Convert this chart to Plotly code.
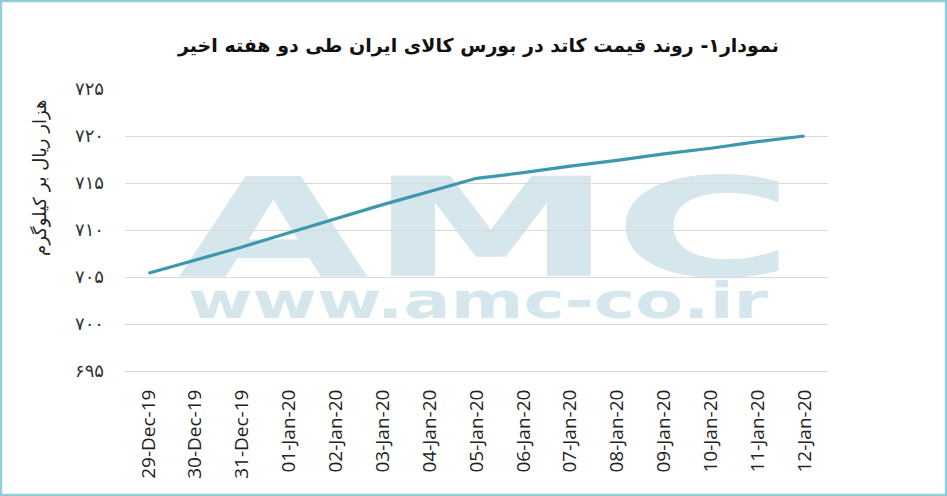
import base64
import plotly.graph_objects as go

# ---- data ----
dates = ["29-Dec-19", "30-Dec-19", "31-Dec-19", "01-Jan-20", "02-Jan-20", "03-Jan-20",
         "04-Jan-20", "05-Jan-20", "06-Jan-20", "07-Jan-20", "08-Jan-20", "09-Jan-20",
         "10-Jan-20", "11-Jan-20", "12-Jan-20"]
prices = [705.4, 706.8, 708.2, 709.7, 711.2, 712.7, 714.1, 715.5,
          716.1, 716.8, 717.4, 718.1, 718.7, 719.4, 720.0]
y_tick_vals = [695, 700, 705, 710, 715, 720, 725]
y_tick_text = ["۶۹۵", "۷۰۰", "۷۰۵", "۷۱۰", "۷۱۵", "۷۲۰", "۷۲۵"]
title_text = "نمودار۱- روند قیمت کاتد در بورس کالای ایران طی دو هفته اخیر"
y_title = "هزار ریال بر کیلوگرم"

W, H = 947, 496
L, R, T, B = 125, 119, 89, 125
PW, PH = W - L - R, H - T - B

def px_x(p):
    return (p - L) / PW

def px_y(p):
    return (H - B - p) / PH

# watermark svg
wm_x0, wm_y0, wm_w, wm_h = 160, 172, 640, 160
svg = f'''<svg xmlns="http://www.w3.org/2000/svg" width="{wm_w}" height="{wm_h}" viewBox="0 0 {wm_w} {wm_h}">
<text x="18" y="104" font-family="DejaVu Sans" font-weight="bold" font-size="138" fill="#d5e6ec"
 textLength="616" lengthAdjust="spacingAndGlyphs">AMC</text>
<text x="28" y="146" font-family="DejaVu Sans" font-weight="bold" font-size="50" fill="#d5e6ec"
 textLength="580" lengthAdjust="spacingAndGlyphs">www.amc-co.ir</text>
</svg>'''
svg_uri = "data:image/svg+xml;base64," + base64.b64encode(svg.encode()).decode()

fig = go.Figure()
fig.add_trace(go.Scatter(
    x=dates, y=prices, mode="lines",
    line=dict(color="#3d97ad", width=3.2, shape="linear"),
    hoverinfo="skip", showlegend=False,
))

fig.update_layout(
    width=W, height=H,
    margin=dict(l=L, r=R, t=T, b=B, autoexpand=False),
    paper_bgcolor="white",
    plot_bgcolor="rgba(0,0,0,0)",
    images=[dict(
        source=svg_uri, xref="paper", yref="paper",
        x=px_x(wm_x0), y=px_y(wm_y0),
        sizex=wm_w / PW, sizey=wm_h / PH,
        xanchor="left", yanchor="top", sizing="stretch", layer="below",
    )],
    xaxis=dict(
        type="category", range=[-0.5, len(dates) - 0.5],
        tickangle=-90, showgrid=False, showline=True,
        linecolor="#d9d9d9", linewidth=1, ticks="",
        tickfont=dict(family="Open Sans", size=19, color="#222"),
        ticklabelstandoff=10,
    ),
    yaxis=dict(
        range=[695, 725], tickvals=y_tick_vals, ticktext=y_tick_text,
        showgrid=True, gridcolor="#d9d9d9", gridwidth=1, zeroline=False,
        showline=False, ticks="",
        tickfont=dict(family="DejaVu Sans", size=18, color="#333"),
        ticklabelstandoff=20,
    ),
    annotations=[
        dict(text=f"<b>{title_text}</b>", xref="paper", yref="paper",
             x=px_x(478), y=px_y(45), xanchor="center", yanchor="middle",
             showarrow=False, font=dict(family="DejaVu Sans", size=19, color="#111")),
        dict(text=y_title, xref="paper", yref="paper",
             x=px_x(40), y=px_y(178), xanchor="center", yanchor="middle",
             textangle=-90, showarrow=False,
             font=dict(family="DejaVu Sans", size=18, color="#222")),
    ],
    shapes=[dict(type="rect", xref="paper", yref="paper",
                 x0=px_x(1), x1=px_x(W - 1), y0=px_y(H - 1), y1=px_y(1),
                 line=dict(color="#92cde0", width=2.5), fillcolor="rgba(0,0,0,0)",
                 layer="above")],
)

fig.write_html("out.html", config={"displayModeBar": False},
               post_script="document.body.style.margin='0px';document.body.style.padding='0px';")
